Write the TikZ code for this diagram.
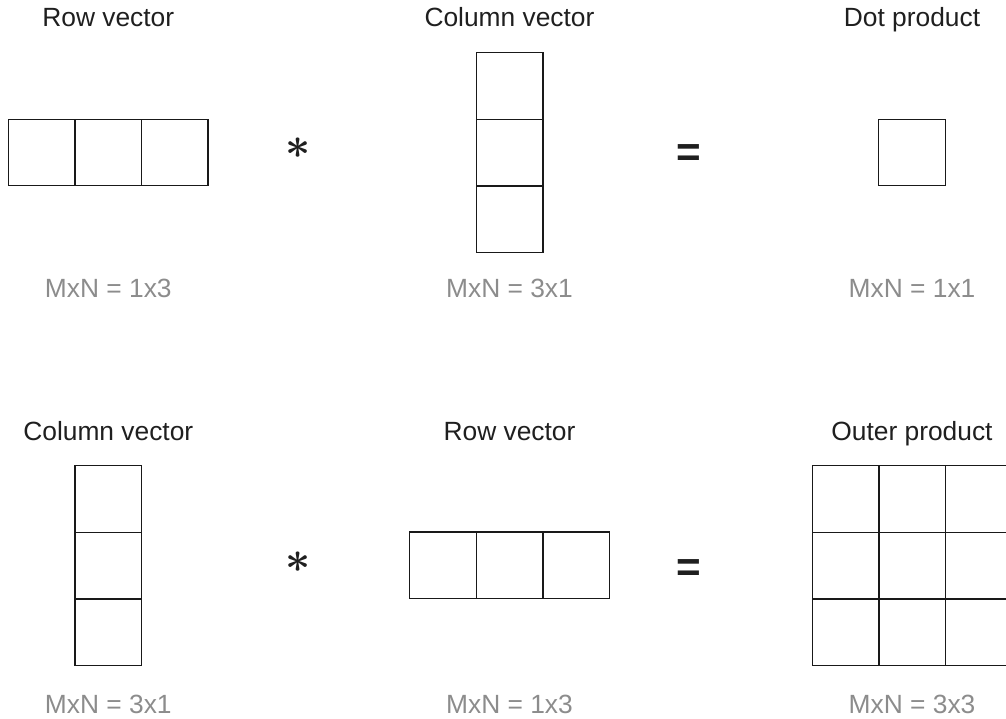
\documentclass[tikz,border=0pt]{standalone}
\usepackage{amsmath}
\usepackage{fontspec}
\setmainfont{Liberation Sans}
\usetikzlibrary{positioning}

\begin{document}
\begin{tikzpicture}[
    x=0.02cm, y=-0.02cm,
    node distance=0cm,
    cell/.style={rectangle, draw=black!90, line width=0.8pt, minimum size=1.332cm, inner sep=0pt, outer sep=0pt},
    title_text/.style={anchor=base, font=\fontsize{15}{18}\selectfont, text=black!88},
    dim_text/.style={anchor=base, font=\fontsize{15}{18}\selectfont, text=black!45},
    op_text/.style={anchor=base, font=\fontsize{24}{24}\selectfont\bfseries, text=black!88}
]
\useasboundingbox (0,0) rectangle (1006,719);

% Top left: row vector
\node[title_text] (rv_title) at (108.3, 27) {Row vector};
\node[cell] (rv_a) at (41.6, 152.5) {};
\node[cell, right=of rv_a] (rv_b) {};
\node[cell, right=of rv_b] (rv_c) {};
\node[dim_text] (rv_dim) at (108.3, 297) {MxN = 1x3};

% Top operator
\node[op_text] (top_times) at (298, 159) {$\boldsymbol{\ast}$};

% Top middle: column vector
\node[title_text] (cv_title) at (509.5, 27) {Column vector};
\node[cell] (cv_a) at (509.5, 86) {};
\node[cell, below=of cv_a] (cv_b) {};
\node[cell, below=of cv_b] (cv_c) {};
\node[dim_text] (cv_dim) at (509.5, 297) {MxN = 3x1};

% Top equals
\node[op_text] (top_eq) at (689, 167) {=};

% Top right: dot product
\node[title_text] (dp_title) at (912, 27) {Dot product};
\node[cell] (dp_a) at (912, 152.5) {};
\node[dim_text] (dp_dim) at (912, 297) {MxN = 1x1};

% Bottom left: column vector
\node[title_text] (cv2_title) at (108.3, 440) {Column vector};
\node[cell] (cv2_a) at (108.3, 499) {};
\node[cell, below=of cv2_a] (cv2_b) {};
\node[cell, below=of cv2_b] (cv2_c) {};
\node[dim_text] (cv2_dim) at (108.3, 713) {MxN = 3x1};

% Bottom operator
\node[op_text] (bot_times) at (298, 572) {$\boldsymbol{\ast}$};

% Bottom middle: row vector
\node[title_text] (rv2_title) at (509.5, 440) {Row vector};
\node[cell] (rv2_a) at (443, 565.3) {};
\node[cell, right=of rv2_a] (rv2_b) {};
\node[cell, right=of rv2_b] (rv2_c) {};
\node[dim_text] (rv2_dim) at (509.5, 713) {MxN = 1x3};

% Bottom equals
\node[op_text] (bot_eq) at (689, 581) {=};

% Bottom right: outer product
\node[title_text] (op_title) at (912, 440) {Outer product};
\node[cell] (op_a1) at (845.5, 499) {};
\node[cell, right=of op_a1] (op_a2) {};
\node[cell, right=of op_a2] (op_a3) {};
\node[cell, below=of op_a1] (op_b1) {};
\node[cell, right=of op_b1] (op_b2) {};
\node[cell, right=of op_b2] (op_b3) {};
\node[cell, below=of op_b1] (op_c1) {};
\node[cell, right=of op_c1] (op_c2) {};
\node[cell, right=of op_c2] (op_c3) {};
\node[dim_text] (op_dim) at (912, 713) {MxN = 3x3};

\end{tikzpicture}
\end{document}
